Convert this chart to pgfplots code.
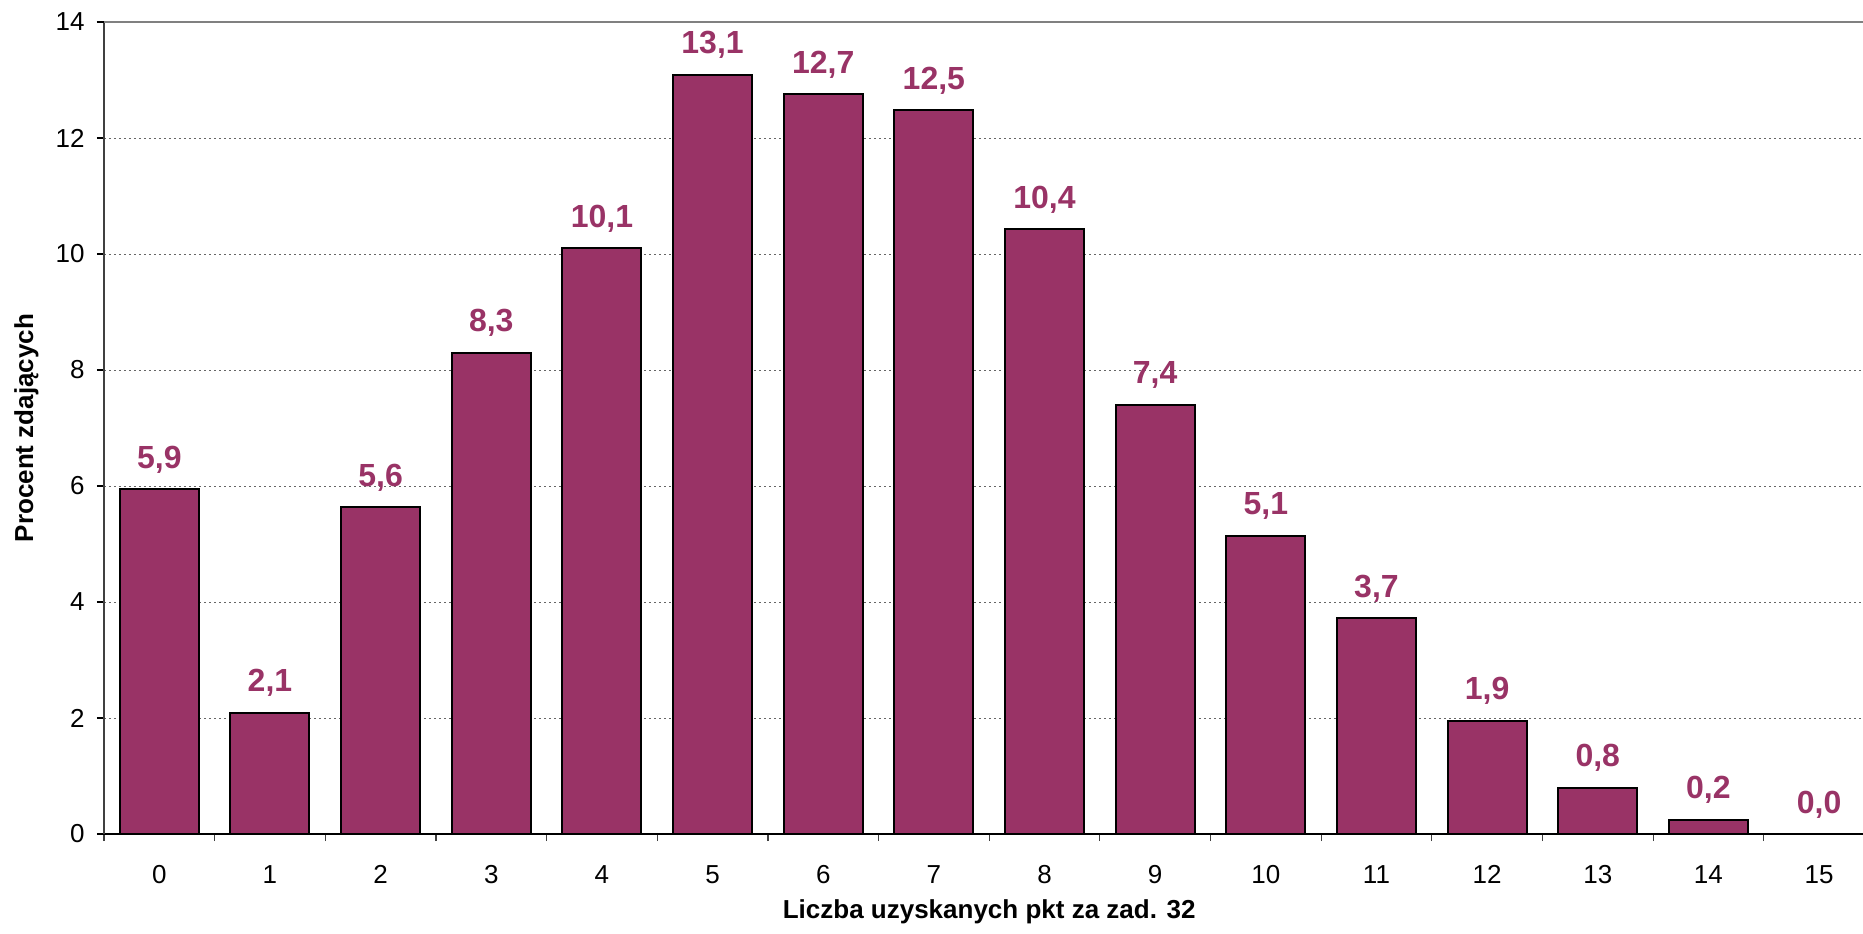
\documentclass[border=0pt]{standalone}
\usepackage{fontspec}
\setmainfont{Liberation Sans}
\usepackage{pgfplots}
\usepackage{pgfplotstable}
\pgfplotsset{compat=1.18}
\definecolor{plum}{HTML}{993366}
\pgfplotstableread{
x y lab
0 5.94 5,9
1 2.09 2,1
2 5.63 5,6
3 8.30 8,3
4 10.10 10,1
5 13.09 13,1
6 12.75 12,7
7 12.48 12,5
8 10.43 10,4
9 7.40 7,4
10 5.14 5,1
11 3.72 3,7
12 1.95 1,9
13 0.80 0,8
14 0.25 0,2
15 0.00 0,0
}\data
\begin{document}
\begin{tikzpicture}
\useasboundingbox (-52pt,-49.5pt) rectangle (879.5pt,417pt);
\clip (-52pt,-49.5pt) rectangle (879.5pt,417pt);
\begin{axis}[
  at={(0,0)}, anchor=south west,
  scale only axis, width=885.2pt, height=406pt,
  xmin=-0.5, xmax=15.5, ymin=0, ymax=14,
  axis x line*=bottom, axis y line*=left,
  x axis line style={black, line width=1pt, -},
  y axis line style={black!75, line width=1pt, -},
  xtick={0,...,15},
  minor xtick={-0.5,0.5,...,14.5},
  ytick={0,2,...,14},
  tick align=outside,
  major tick length=3.5pt, minor tick length=3.5pt,
  major x tick style={draw=none},
  minor x tick style={draw=black!75, line width=0.6pt},
  y tick style={draw=black, line width=0.6pt},
  ymajorgrids,
  major grid style={draw=black!60, line width=0.5pt, dash pattern=on 1pt off 1.5pt},
  extra y ticks={14}, extra y tick labels={},
  extra y tick style={major grid style={solid, draw=gray, line width=1.2pt}},
  tick label style={font=\fontsize{13}{15}\selectfont},
  /pgf/number format/assume math mode=true,
  xticklabel style={inner sep=0pt, anchor=north, yshift=-12pt},
  yticklabel style={inner sep=0pt, anchor=east, xshift=-6pt},
  xlabel={\bfseries Liczba uzyskanych pkt za zad. 32},
  ylabel={\bfseries Procent zdających},
  label style={font=\fontsize{13}{15}\selectfont},
  xlabel style={at={(axis description cs:0.5,0)}, anchor=base, yshift=-42pt},
  ylabel style={at={(axis description cs:-0.0401,0.5)}, anchor=base},
  clip=false,
]
\addplot[ybar, bar width=0.714, fill=plum, draw=black, line width=1pt,
  nodes near coords, point meta=explicit symbolic,
  nodes near coords style={font=\fontsize{16}{19}\bfseries\selectfont, text=plum, anchor=base, inner sep=0pt, yshift=10.5pt}]
  table[x=x, y=y, meta=lab]{\data};
\end{axis}
\end{tikzpicture}
\end{document}
